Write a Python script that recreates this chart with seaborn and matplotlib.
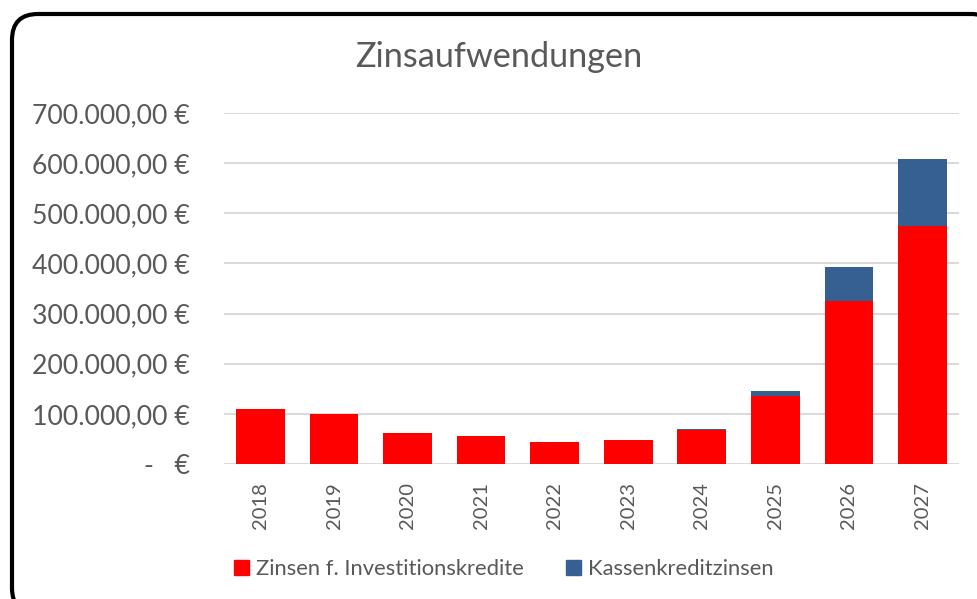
import matplotlib
matplotlib.use("Agg")
import matplotlib.pyplot as plt
from matplotlib.patches import FancyBboxPatch, Patch
import pandas as pd
import seaborn as sns


years = ["2018", "2019", "2020", "2021", "2022", "2023", "2024", "2025", "2026", "2027"]
invest_zinsen = [108700, 100000, 62700, 56700, 44700, 48000, 67300, 135700, 326000, 473700]
kassen_zinsen = [0, 0, 0, 0, 0, 0, 3400, 10000, 67200, 134400]
y_ticks = [0, 100000, 200000, 300000, 400000, 500000, 600000, 700000]
y_tick_labels = ["-   €", "100.000,00 €", "200.000,00 €", "300.000,00 €", "400.000,00 €",
                 "500.000,00 €", "600.000,00 €", "700.000,00 €"]

red = "#FF0000"
blue = "#376092"
grey_text = "#595959"
font_fam = ["Lato", "DejaVu Sans"]


def main():
    df = pd.DataFrame({"Jahr": years, "Invest": invest_zinsen, "Kassen": kassen_zinsen})
    df["Gesamt"] = df["Invest"] + df["Kassen"]

    sns.set_style("white")
    plt.rcParams["font.family"] = font_fam

    fig = plt.figure(figsize=(9.78, 5.99), dpi=100)

    # rounded frame around the chart
    bg = fig.add_axes([0, 0, 1, 1], zorder=-1)
    bg.set_xlim(0, 978)
    bg.set_ylim(599, 0)
    bg.axis("off")
    bg.add_patch(FancyBboxPatch((12, 14), 985, 600, boxstyle="round,pad=0,rounding_size=26",
                                facecolor="white", edgecolor="black", linewidth=3))

    ax = fig.add_axes([0.229, 0.2254, 0.7516, 0.586])
    sns.barplot(data=df, x="Jahr", y="Gesamt", color=blue, width=0.66, saturation=1, ax=ax,
                zorder=3, linewidth=0)
    sns.barplot(data=df, x="Jahr", y="Invest", color=red, width=0.66, saturation=1, ax=ax,
                zorder=4, linewidth=0)

    ax.set_ylim(0, 700000)
    ax.set_xlim(-0.5, len(years) - 0.5)
    ax.set_yticks(y_ticks)
    ax.set_yticklabels(y_tick_labels)
    ax.grid(axis="y", color="#D9D9D9", linewidth=1.4, zorder=0)
    ax.set_axisbelow(True)
    for s in ax.spines.values():
        s.set_visible(False)
    ax.set_xlabel("")
    ax.set_ylabel("")
    ax.tick_params(axis="y", length=0, pad=24.5, labelsize=19.2, labelcolor=grey_text)
    ax.tick_params(axis="x", length=0, pad=13, labelsize=14.5, labelcolor=grey_text, rotation=90)

    fig.text(0.51, 0.905, "Zinsaufwendungen", ha="center", va="center", fontsize=24.7, color=grey_text)

    handles = [Patch(facecolor=red, edgecolor=red, label="Zinsen f. Investitionskredite"),
               Patch(facecolor=blue, edgecolor=blue, label="Kassenkreditzinsen")]
    leg = fig.legend(handles=handles, loc="center", bbox_to_anchor=(0.515, 0.05), ncol=2, frameon=False,
                     fontsize=15.8, handlelength=0.7, handleheight=0.7, handletextpad=0.3, columnspacing=1.9)
    for t in leg.get_texts():
        t.set_color(grey_text)

    fig.savefig("out.png", dpi=100)


if __name__ == "__main__":
    main()
